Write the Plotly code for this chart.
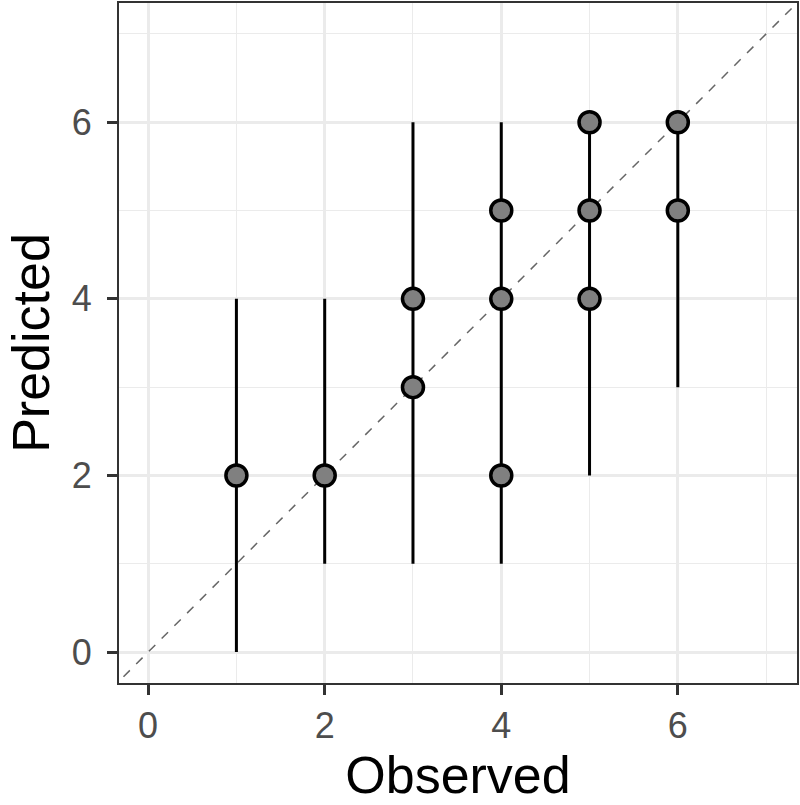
import plotly.graph_objects as go

# Data
obs_points = [1, 2, 3, 3, 4, 4, 4, 5, 5, 5, 6, 6]
pred_points = [2, 2, 3, 4, 2, 4, 5, 4, 5, 6, 5, 6]
range_x = [1, 2, 3, 4, 5, 6]
range_low = [0, 1, 1, 1, 2, 3]
range_high = [4, 4, 6, 6, 6, 6]
tick_vals = [0, 2, 4, 6]

fig = go.Figure()

# identity line
fig.add_trace(go.Scatter(x=[-1, 8], y=[-1, 8], mode="lines",
                         line=dict(color="#666666", width=1.5, dash="dash"),
                         hoverinfo="skip", showlegend=False))

# vertical ranges
lx, ly = [], []
for x, lo, hi in zip(range_x, range_low, range_high):
    lx += [x, x, None]
    ly += [lo, hi, None]
fig.add_trace(go.Scatter(x=lx, y=ly, mode="lines",
                         line=dict(color="black", width=3),
                         showlegend=False))

# points
fig.add_trace(go.Scatter(x=obs_points, y=pred_points, mode="markers",
                         marker=dict(size=21, color="#808080",
                                     line=dict(color="black", width=3.5)),
                         showlegend=False))

font_fam = "Liberation Sans, Arial"
axis_common = dict(
    tickvals=tick_vals,
    ticks="outside", ticklen=10, tickwidth=3, tickcolor="#333333",
    tickfont=dict(size=36, color="#4d4d4d", family=font_fam),
    showgrid=True, gridcolor="#ebebeb", gridwidth=2.5,
    minor=dict(dtick=1, showgrid=True, gridcolor="#ebebeb", gridwidth=1.2),
    zeroline=False,
    showline=True, linecolor="#333333", linewidth=2, mirror=True,
)

fig.update_xaxes(range=[-0.33, 7.35],
                 title=dict(text="Observed", font=dict(size=52, color="black", family=font_fam),
                            standoff=10),
                 **axis_common)
fig.update_yaxes(range=[-0.35, 7.35], ticklabelstandoff=8,
                 title=dict(text="Predicted", font=dict(size=52, color="black", family=font_fam),
                            standoff=6),
                 **axis_common)

fig.update_layout(width=800, height=805,
                  margin=dict(l=119, r=3, t=3, b=122, autoexpand=False),
                  plot_bgcolor="white", paper_bgcolor="white",
                  showlegend=False)

fig.write_html("out.html", config={"displayModeBar": False},
               post_script="document.body.style.margin='0px';")
